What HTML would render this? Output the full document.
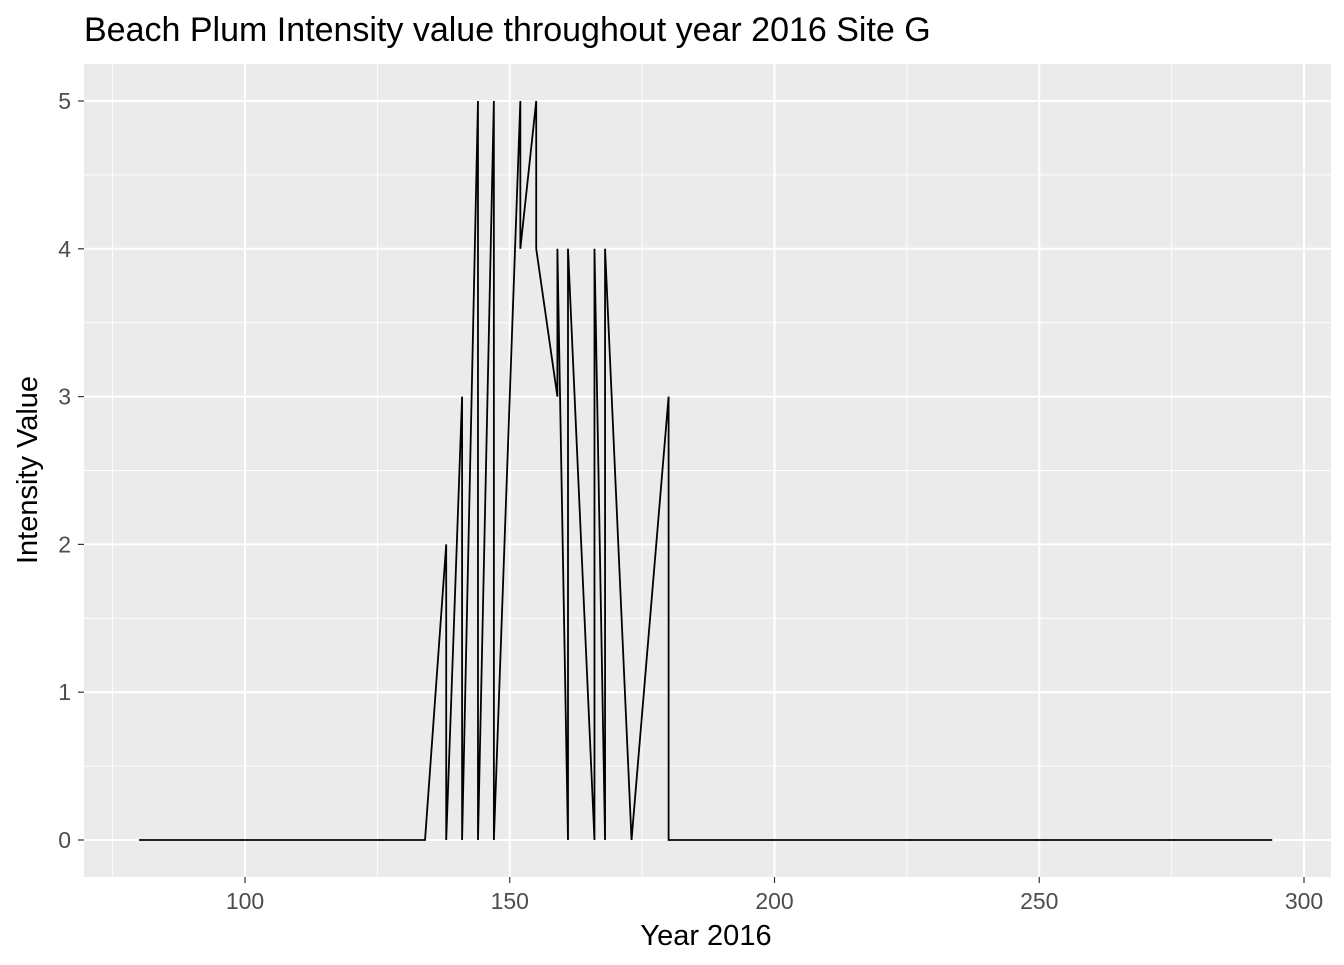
<!DOCTYPE html>
<html><head><meta charset="utf-8"><style>
body{margin:0;background:#fff;font-family:"Liberation Sans",sans-serif;}
svg text{font-family:"Liberation Sans",sans-serif;}
</style></head><body>
<svg id="chart" width="1344" height="960">
<text x="84" y="41" style="font-size:34px" fill="#000">Beach Plum Intensity value throughout year 2016 Site G</text>
<rect x="84" y="64" width="1247" height="813" fill="#ebebeb"/>
<g id="grid"></g>
<path id="line" fill="none" stroke="#000" stroke-width="1.8"/>
<g id="axes"></g>
<text x="706" y="945" style="font-size:29px" text-anchor="middle">Year 2016</text>
<text transform="translate(37,470) rotate(-90)" style="font-size:29px" text-anchor="middle">Intensity Value</text>
</svg>
<script>
const days=[80,134,138,138,141,141,144,144,147,147,152,152,155,155,159,159,161,161,166,166,168,168,173,180,180,294];
const values=[0,0,2,0,3,0,5,0,5,0,5,4,5,4,3,4,0,4,0,4,0,4,0,3,0,0];
const xTicks=[100,150,200,250,300];
const yTicks=[0,1,2,3,4,5];
const X=d=>245+(d-100)*(1304-245)/200;
const Y=v=>840-v*(840-101)/5;
const ns="http://www.w3.org/2000/svg";
const grid=document.getElementById('grid'),axes=document.getElementById('axes');
function ln(p,x1,y1,x2,y2,c,w){const l=document.createElementNS(ns,'line');l.setAttribute('x1',x1);l.setAttribute('y1',y1);l.setAttribute('x2',x2);l.setAttribute('y2',y2);l.setAttribute('stroke',c);l.setAttribute('stroke-width',w);p.appendChild(l);return l;}
function tx(p,x,y,s,a){const t=document.createElementNS(ns,'text');t.setAttribute('x',x);t.setAttribute('y',y);t.setAttribute('style','font-size:23px');t.setAttribute('fill','#4d4d4d');t.setAttribute('text-anchor',a);t.textContent=s;p.appendChild(t);return t;}
for(let i=0;i<xTicks.length;i++){const m=xTicks[i]-25;const g=ln(grid,X(m),64,X(m),877,'#fff',0.9);

}
for(let i=0;i<yTicks.length-1;i++){const m=yTicks[i]+0.5;const g=ln(grid,84,Y(m),1331,Y(m),'#fff',0.9);

}
xTicks.forEach(t=>{const g=ln(grid,X(t),64,X(t),877,'#fff',2);


const k=ln(axes,X(t),877,X(t),883,'#333',1.2);


const l=tx(axes,X(t),909,String(t),'middle');

});
yTicks.forEach(t=>{const g=ln(grid,84,Y(t),1331,Y(t),'#fff',2);


const k=ln(axes,78,Y(t),84,Y(t),'#333',1.2);


const l=tx(axes,71,Y(t)+8,String(t),'end');

});
document.getElementById('line').setAttribute('d',days.map((d,i)=>(i?'L':'M')+X(d)+','+Y(values[i])).join(''));
</script>
</body></html>
